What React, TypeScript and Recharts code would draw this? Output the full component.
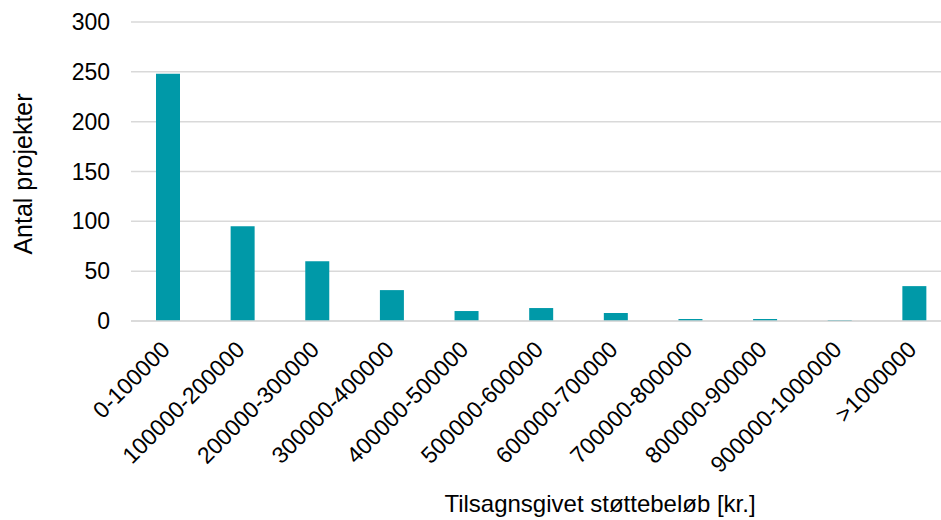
import React from 'react'
import { BarChart, Bar, XAxis, YAxis, CartesianGrid, Label } from 'recharts'

const categories = [
  '0-100000',
  '100000-200000',
  '200000-300000',
  '300000-400000',
  '400000-500000',
  '500000-600000',
  '600000-700000',
  '700000-800000',
  '800000-900000',
  '900000-1000000',
  '>1000000',
]
const projects = [248, 95, 60, 31, 10, 13, 8, 2, 2, 1, 35]
const yTicks = [0, 50, 100, 150, 200, 250, 300]

const data = categories.map((name, i) => ({ name, value: projects[i] }))

const FONT = '"Liberation Sans", Arial, sans-serif'
const TEXT = '#000000'

const XTick = ({ x, y, payload }: any) => (
  <text
    transform={`translate(${x + 3},${y + 30}) rotate(-45)`}
    textAnchor="end"
    fontSize={23}
    fontFamily={FONT}
    fill={TEXT}
  >
    {payload.value}
  </text>
)

export default function App() {
  return (
    <div style={{ position: 'fixed', left: 0, top: 0, width: 941, height: 520, overflow: 'hidden', background: '#fff' }}>
      <BarChart
        width={952}
        height={520}
        data={data}
        margin={{ top: 22, right: 0, left: 0, bottom: 0 }}
      >
        <CartesianGrid vertical={false} stroke="#D9D9D9" strokeWidth={1.5} />
        <XAxis
          dataKey="name"
          interval={0}
          height={199}
          tickLine={false}
          tickSize={0}
          tickMargin={0}
          axisLine={{ stroke: '#D9D9D9', strokeWidth: 1.5 }}
          tick={<XTick />}
        >
          <Label
            content={() => (
              <text x={600} y={512} textAnchor="middle" fontSize={24} fontFamily={FONT} fill={TEXT}>
                Tilsagnsgivet støttebeløb [kr.]
              </text>
            )}
          />
        </XAxis>
        <YAxis
          width={131}
          domain={[0, 300]}
          ticks={yTicks}
          interval={0}
          axisLine={false}
          tickLine={false}
          tickSize={0}
          tickMargin={21}
          tick={{ fontSize: 23, fontFamily: FONT, fill: TEXT }}
        >
          <Label
            content={() => (
              <text
                x={23}
                y={174}
                transform="rotate(-90 23 174)"
                textAnchor="middle"
                dominantBaseline="central"
                fontSize={25}
                fontFamily={FONT}
                fill={TEXT}
              >
                Antal projekter
              </text>
            )}
          />
        </YAxis>
        <Bar dataKey="value" fill="#0099A8" barSize={24} isAnimationActive={false} />
      </BarChart>
    </div>
  )
}
